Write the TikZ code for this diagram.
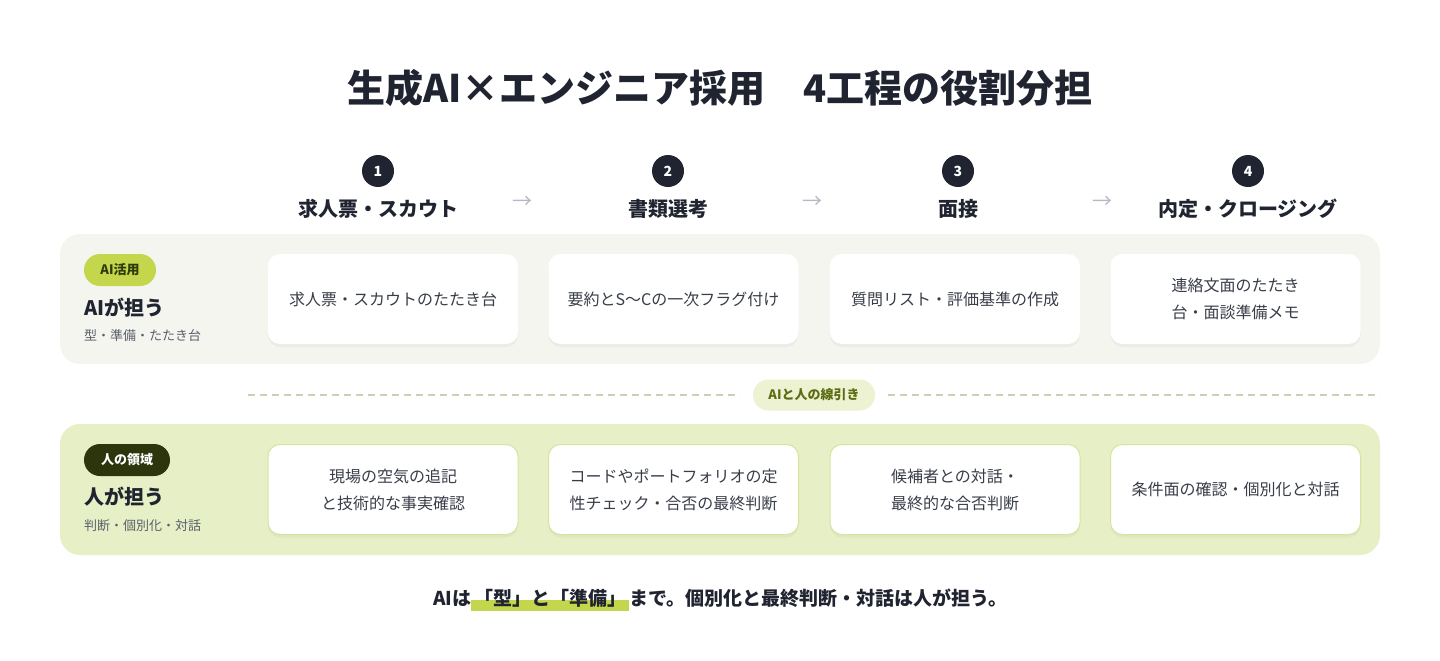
\documentclass[tikz,border=0pt]{standalone}
\usepackage{fontspec}
\setmainfont{Noto Sans CJK JP}
\usetikzlibrary{shadows,positioning,backgrounds}
\definecolor{ink}{HTML}{1F2430}
\definecolor{cardtext}{HTML}{383D48}
\definecolor{subtext}{HTML}{5A606B}
\definecolor{aipanel}{HTML}{F4F5EE}
\definecolor{hpanel}{HTML}{E6EFC6}
\definecolor{hborder}{HTML}{D6E49E}
\definecolor{lime}{HTML}{C4D64B}
\definecolor{limetext}{HTML}{2E3A0A}
\definecolor{darkolive}{HTML}{2C350B}
\definecolor{pillfill}{HTML}{EDF2D2}
\definecolor{pilltext}{HTML}{5B6C14}
\definecolor{dashc}{HTML}{CBD1B2}
\definecolor{arrowc}{HTML}{B3B8C2}
\newcommand\fsz[2]{\fontsize{#1}{#2}\selectfont}
\begin{document}
\begin{tikzpicture}[x=1pt,y=-1pt,
  every node/.style={inner sep=0pt, outer sep=0pt},
  titletext/.style={font=\bfseries\fsz{38}{44}, text=ink},
  stepnum/.style={circle, fill=ink, minimum size=32pt, text=white, font=\bfseries\fsz{14}{16}},
  steplabel/.style={font=\bfseries\fsz{20}{24}, text=ink},
  steparrow/.style={font=\fsz{20}{24}, text=arrowc},
  panelbox/.style={rounded corners=20pt, minimum width=1320pt},
  card/.style={fill=white, rounded corners=12pt, minimum width=250pt, minimum height=90pt,
    align=center, text=cardtext, font=\fsz{16}{27},
    drop shadow={opacity=0.07, shadow xshift=0pt, shadow yshift=-3pt}},
  hcard/.style={card, draw=hborder, line width=1pt},
  badge/.style={rounded corners=16pt, minimum height=32pt, font=\bfseries\fsz{13}{15}},
  rowtitle/.style={anchor=west, font=\bfseries\fsz{20}{24}, text=ink},
  rowsub/.style={anchor=west, font=\fsz{13}{15}, text=subtext},
  divline/.style={draw=dashc, line width=1.5pt, dash pattern=on 7pt off 5pt},
  pill/.style={fill=pillfill, rounded corners=15.5pt, minimum width=122pt, minimum height=31pt,
    font=\bfseries\fsz{13}{15}, text=pilltext},
  bottomtext/.style={font=\bfseries\fsz{19}{23}, text=ink, anchor=base west}
]
\useasboundingbox (0,0) rectangle (1440,661);

% title
\node[titletext] (title) at (720,88) {生成AI×エンジニア採用　4工程の役割分担};

% steps
\foreach \i/\x/\lab in {1/378/求人票・スカウト, 2/668/書類選考, 3/958/面接, 4/1248/内定・クロージング}{
  \node[stepnum] (n\i) at (\x,171) {\i};
  \node[steplabel] (s\i) at (\x,209) {\lab};
}
\foreach \x/\k in {522/1, 812/2, 1102/3}{
  \node[steparrow] (arr\k) at (\x,202) {→};
}

% AI panel
\node[panelbox, fill=aipanel, minimum height=130pt] (aip) at (720,299) {};
\node[badge, fill=lime, text=limetext, minimum width=72pt] (aibadge) at (120,270) {AI活用};
\node[rowtitle] (aititle) at (84,308) {AIが担う};
\node[rowsub] (aisub) at (84,336) {型・準備・たたき台};
\node[card] (a1) at (393,299) {求人票・スカウトのたたき台};
\node[card] (a2) at (673.5,299) {要約とS〜Cの一次フラグ付け};
\node[card] (a3) at (955,299) {質問リスト・評価基準の作成};
\node[card] (a4) at (1235.5,299) {連絡文面のたたき\\台・面談準備メモ};

% divider
\node[pill] (pill) at (814,395) {AIと人の線引き};
\coordinate (dl) at (248,395);
\coordinate (dr) at (1380,395);
\draw[divline] (dl) -- ([xshift=-13pt]pill.west);
\draw[divline] ([xshift=13pt]pill.east) -- (dr);

% human panel
\node[panelbox, fill=hpanel, minimum height=131pt] (hp) at (720,489.5) {};
\node[badge, fill=darkolive, text=white, minimum width=86pt] (hbadge) at (127,460) {人の領域};
\node[rowtitle] (htitle) at (84,497) {人が担う};
\node[rowsub] (hsub) at (84,526) {判断・個別化・対話};
\node[hcard] (h1) at (393,489.5) {現場の空気の追記\\と技術的な事実確認};
\node[hcard] (h2) at (673.5,489.5) {コードやポートフォリオの定\\性チェック・合否の最終判断};
\node[hcard] (h3) at (955,489.5) {候補者との対話・\\最終的な合否判断};
\node[hcard] (h4) at (1235.5,489.5) {条件面の確認・個別化と対話};

% bottom summary
\node[bottomtext] (b1) at (433,605) {AIは};
\node[bottomtext, inner xsep=3pt] (b2) at (b1.base east) {「型」と「準備」};
\node[bottomtext] (b3) at (b2.base east) {まで。個別化と最終判断・対話は人が担う。};
\begin{scope}[on background layer]
  \fill[white] (0,0) rectangle (1440,661);
  \fill[lime] ([yshift=5pt]b2.base west) rectangle ([yshift=-6pt]b2.base east);
\end{scope}
\end{tikzpicture}
\end{document}
